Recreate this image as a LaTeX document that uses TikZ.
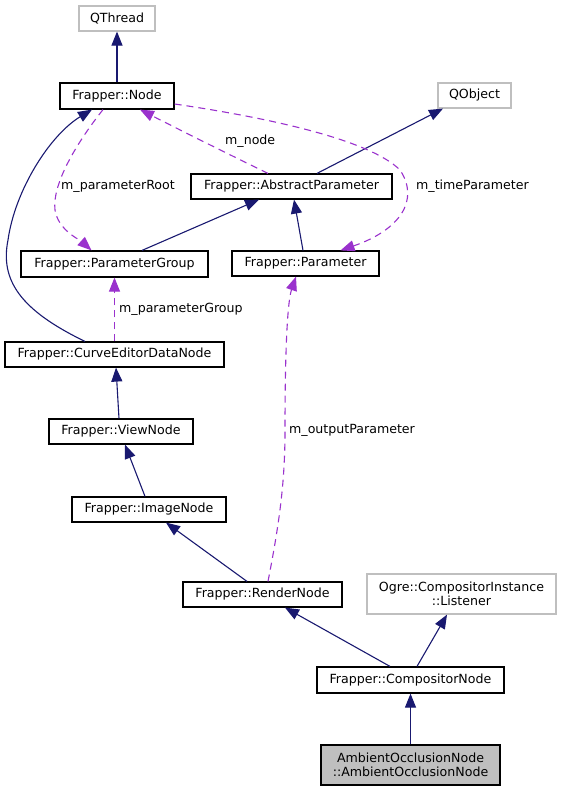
\documentclass[tikz,border=0pt]{standalone}
\usepackage{fontspec}
\setmainfont{DejaVu Sans}
\usetikzlibrary{arrows.meta,calc}
\definecolor{edgeblue}{RGB}{25,25,112}
\definecolor{memberpurple}{RGB}{154,50,205}
\definecolor{boxgray}{RGB}{191,191,191}

\begin{document}
\begin{tikzpicture}[x=1pt,y=-1pt,
  cls/.style={draw, line width=1.2pt, inner sep=0pt, align=center, font=\fontsize{12.6}{14}\selectfont},
  ext/.style={cls, draw=boxgray},
  isa/.style={edgeblue, line width=1.1pt, -{Triangle[length=14pt,width=11pt]}},
  uses/.style={memberpurple, line width=1.1pt, dash pattern=on 7pt off 5pt, -{Triangle[length=14pt,width=11pt]}},
  lbl/.style={anchor=west, inner sep=0pt, font=\fontsize{12.6}{14}\selectfont}]

\useasboundingbox (0,0) rectangle (561,792);

\node[ext, minimum width=76pt, minimum height=25pt] (qthread) at (117,18.5) {QThread};
\node[cls, minimum width=114pt, minimum height=26pt] (frnode) at (117,96) {Frapper::Node};
\node[ext, minimum width=73pt, minimum height=25pt] (qobject) at (474.5,95.5) {QObject};
\node[cls, minimum width=201pt, minimum height=25pt] (abspar) at (291.5,186.5) {Frapper::AbstractParameter};
\node[cls, minimum width=147pt, minimum height=25pt] (param) at (305.5,263.5) {Frapper::Parameter};
\node[cls, minimum width=187pt, minimum height=26pt] (pargroup) at (114.5,264) {Frapper::ParameterGroup};
\node[cls, minimum width=219pt, minimum height=25pt] (curvenode) at (114.5,354.5) {Frapper::CurveEditorDataNode};
\node[cls, minimum width=144pt, minimum height=25pt] (viewnode) at (121,431.5) {Frapper::ViewNode};
\node[cls, minimum width=154pt, minimum height=25pt] (imagenode) at (149,509.5) {Frapper::ImageNode};
\node[cls, minimum width=159pt, minimum height=25pt] (rendernode) at (262.5,594.5) {Frapper::RenderNode};
\node[ext, minimum width=189pt, minimum height=40pt] (listener) at (461.5,594) {Ogre::CompositorInstance\\::Listener};
\node[cls, minimum width=187pt, minimum height=26pt] (compnode) at (410.5,680) {Frapper::CompositorNode};
\node[cls, fill=boxgray, minimum width=179pt, minimum height=40pt] (aonode) at (410.5,765) {AmbientOcclusionNode\\::AmbientOcclusionNode};

\draw[isa] (frnode.north) -- (qthread.south);
\draw[isa] ($(abspar.north)+(25.5,0)$) -- ($(qobject.south)+(-31.5,0)$);
\draw[isa] ($(pargroup.north)+(27.5,0)$) -- ($(abspar.south)+(-32.5,0)$);
\draw[isa] ($(param.north)+(-2.5,0)$) -- ($(abspar.south)+(2.5,0)$);
\draw[isa] ($(curvenode.north)+(-29.5,0)$) .. controls (20,310) and (0,280) .. (8,240) .. controls (15,190) and (50,135) .. ($(frnode.south)+(-25,0)$);
\draw[isa] ($(viewnode.north)+(-2,0)$) -- ($(curvenode.south)+(1.5,0)$);
\draw[isa] ($(imagenode.north)+(-4,0)$) -- ($(viewnode.south)+(4,0)$);
\draw[isa] ($(rendernode.north)+(-15.5,0)$) -- ($(imagenode.south)+(17,0)$);
\draw[isa] ($(compnode.north)+(-20.5,0)$) -- ($(rendernode.south)+(22.5,0)$);
\draw[isa] ($(compnode.north)+(6.5,0)$) -- ($(listener.south)+(-14.5,0)$);
\draw[isa] (aonode.north) -- (compnode.south);

\draw[uses] ($(frnode.south)+(-14,0)$) .. controls (75,145) and (52,185) .. (55,210) .. controls (58,230) and (80,240) .. ($(pargroup.north)+(-23,0)$);
\draw[uses] ($(abspar.north)+(-23.5,0)$) .. controls (220,150) and (180,130) .. ($(frnode.south)+(23,0)$);
\draw[uses] ($(frnode.east)+(0,8)$) .. controls (270,118) and (370,140) .. (400,170) .. controls (420,200) and (400,230) .. ($(param.north)+(35,0)$);
\draw[uses] (curvenode.north) -- (pargroup.south);
\draw[uses] ($(rendernode.north)+(5.5,0)$) .. controls (280,520) and (285,480) .. (285,430) .. controls (285,340) and (288,300) .. ($(param.south)+(-9.5,0)$);

\node[lbl] (lroot) at (61,186) {m\_parameterRoot};
\node[lbl] (lnode) at (225,141) {m\_node};
\node[lbl] (ltime) at (416,186) {m\_timeParameter};
\node[lbl] (lgroup) at (119,309) {m\_parameterGroup};
\node[lbl] (loutput) at (289,430) {m\_outputParameter};

\end{tikzpicture}
\end{document}
